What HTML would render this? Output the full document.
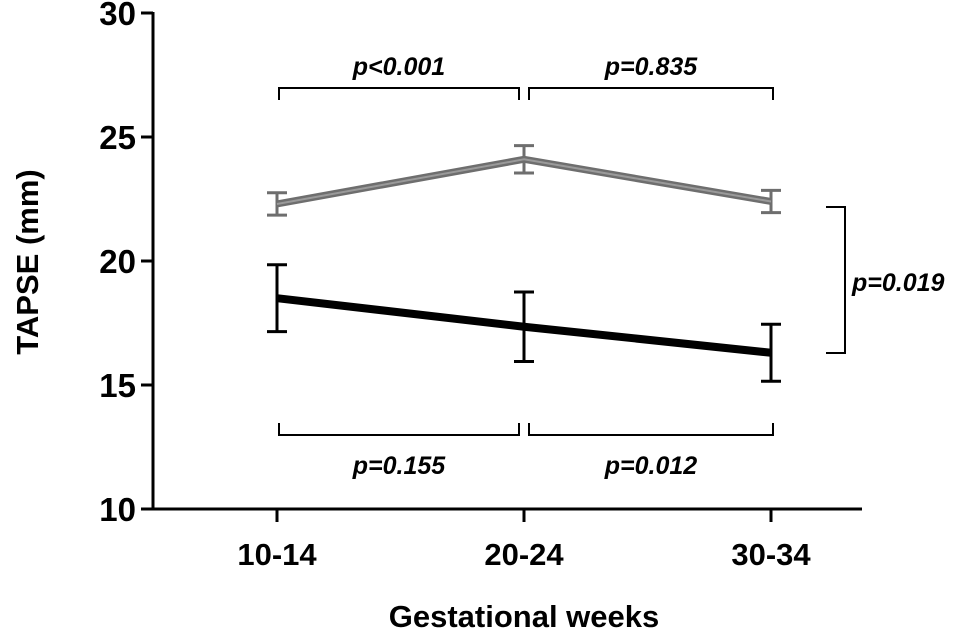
<!DOCTYPE html>
<html><head><meta charset="utf-8"><style>
body{margin:0;background:#fff}
svg text{font-family:"Liberation Sans",Arial,sans-serif;font-weight:bold}
</style></head><body>
<svg id="c" width="969" height="633"></svg>
<script>
const categories=["10-14","20-24","30-34"];
const grayMean=[22.3,24.1,22.4];
const grayErr=[0.45,0.55,0.45];
const blackMean=[18.5,17.35,16.3];
const blackErr=[1.35,1.4,1.15];
const yTicks=[10,15,20,25,30];
const NS="http://www.w3.org/2000/svg";
const svg=document.getElementById("c");
const xPos=[277,521,771];
function x(i){return xPos[0]+(xPos[2]-xPos[0])*i/(categories.length-1);}
function y(v){return 509-(v-10)*(509-13)/20;}
function el(t,a,p){const e=document.createElementNS(NS,t);for(const k in a)e.setAttribute(k,a[k]);(p||svg).appendChild(e);return e;}
let g=el("g",{});


el("line",{x1:153,y1:12,x2:153,y2:510,stroke:"#000","stroke-width":3},g);
yTicks.forEach(t=>{
 el("line",{x1:141,y1:y(t),x2:153,y2:y(t),stroke:"#000","stroke-width":3},g);
 const tx=el("text",{x:136,y:y(t)+12,"text-anchor":"end","font-size":33},g);tx.textContent=t;
 
 
});
let gx=el("g",{});


el("line",{x1:152,y1:509,x2:862,y2:509,stroke:"#000","stroke-width":3},gx);
categories.forEach((c,i)=>{
 el("line",{x1:x(i),y1:509,x2:x(i),y2:522,stroke:"#000","stroke-width":3},gx);
 const tx=el("text",{x:x(i),y:565,"text-anchor":"middle","font-size":31},gx);tx.textContent=c;
 
 
});
let t=el("text",{x:524,y:627,"text-anchor":"middle","font-size":31});t.textContent="Gestational weeks";


t=el("text",{x:0,y:0,"text-anchor":"middle","font-size":31,transform:"translate(38,262) rotate(-90)"});t.textContent="TAPSE (mm)";


function series(mean,err,color,w,name){
 const gg=el("g",{});
 
 
 mean.forEach((m,i)=>{
  const a=y(m+err[i]),b=y(m-err[i]);
  el("line",{x1:x(i),y1:a,x2:x(i),y2:b,stroke:color,"stroke-width":3},gg);
  el("line",{x1:x(i)-10,y1:a,x2:x(i)+10,y2:a,stroke:color,"stroke-width":3},gg);
  el("line",{x1:x(i)-10,y1:b,x2:x(i)+10,y2:b,stroke:color,"stroke-width":3},gg);
 });
 const pts=mean.map((m,i)=>x(i)+","+y(m)).join(" ");
 el("polyline",{points:pts,fill:"none",stroke:color,"stroke-width":w},gg);
 if(color!="#000")el("polyline",{points:pts,fill:"none",stroke:"#9a9a9a","stroke-width":2},gg);
}
series(grayMean,grayErr,"#6e6e6e",7,"gray-series");
series(blackMean,blackErr,"#000",8,"black-series");
function br(x1,x2,yy,up,label,ly){
 const gg=el("g",{});
 
 
 const d=up?12:-12;
 el("path",{d:`M${x1},${yy+d}V${yy}H${x2}V${yy+d}`,fill:"none",stroke:"#000","stroke-width":2},gg);
 const tx=el("text",{x:(x1+x2)/2,y:ly,"text-anchor":"middle","font-size":25,"font-style":"italic"},gg);tx.textContent=label;
}
br(279,519,88,true,"p<0.001",75);
br(529,773,88,true,"p=0.835",75);
br(279,519,435,false,"p=0.155",474);
br(529,773,435,false,"p=0.012",474);
const gr=el("g",{});


el("path",{d:"M826,207H845V353H826",fill:"none",stroke:"#000","stroke-width":2},gr);
t=el("text",{x:852,y:291,"font-size":25,"font-style":"italic"},gr);t.textContent="p=0.019";
</script>
</body></html>
